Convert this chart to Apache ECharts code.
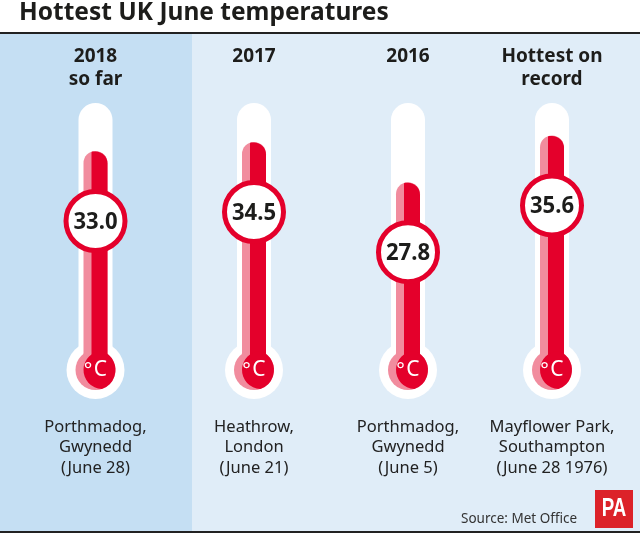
<!DOCTYPE html>
<html lang="en" style="height: 100%">

<head>
  <meta charset="utf-8" />
  <script src="https://cdn.jsdelivr.net/npm/echarts@6/dist/echarts.min.js"></script>
</head>

<body style="height: 100%; margin: 0; background: #fff">
  <div id="container" style="width: 640px; height: 536px;"></div>

  <script type="text/javascript">
    // data
    var headers = ['2018\nso far', '2017', '2016', 'Hottest on\nrecord'];
    var temperatures = [33.0, 34.5, 27.8, 35.6];
    var places = [
      'Porthmadog,\nGwynedd\n(June 28)',
      'Heathrow,\nLondon\n(June 21)',
      'Porthmadog,\nGwynedd\n(June 5)',
      'Mayflower Park,\nSouthampton\n(June 28 1976)'
    ];
    var tubeTopValue = 41;

    // layout and colours
    var centres = [95.5, 254, 408, 552];
    var FONT = '"Noto Sans", sans-serif';
    var RED = '#e4002b';
    var PINK = '#f18c9e';
    var INK = '#1d1d1b';

    var dom = document.getElementById('container');
    var myChart = echarts.init(dom, null, { renderer: 'canvas' });

    function renderThermometer(params, api) {
      var pos = api.coord([api.value(0), api.value(1)]);
      var zero = api.coord([api.value(0), 0]);
      var top = api.coord([api.value(0), tubeTopValue]);
      var cx = pos[0], y = pos[1];
      var bulbY = zero[1] + 21;
      var labelY = y + 70;
      var d = 7, ra = 20, rb = 19;
      var ix = (d * d + ra * ra - rb * rb) / (2 * d);
      var iy = Math.sqrt(ra * ra - ix * ix);
      var lens = 'M' + (cx + ix) + ' ' + (bulbY - iy) +
        'A' + ra + ' ' + ra + ' 0 0 1 ' + (cx + ix) + ' ' + (bulbY + iy) +
        'A' + rb + ' ' + rb + ' 0 0 1 ' + (cx + ix) + ' ' + (bulbY - iy) + 'Z';
      return {
        type: 'group',
        children: [
          // white glass
          { type: 'rect', shape: { x: cx - 17, y: top[1], width: 34, height: bulbY - top[1], r: [17, 17, 0, 0] }, style: { fill: '#fff' } },
          { type: 'circle', shape: { cx: cx, cy: bulbY, r: 29 }, style: { fill: '#fff' } },
          // mercury
          { type: 'rect', shape: { x: cx - 12, y: y, width: 24, height: bulbY - y, r: [12, 12, 0, 0] }, style: { fill: PINK } },
          { type: 'circle', shape: { cx: cx, cy: bulbY, r: ra }, style: { fill: PINK } },
          { type: 'rect', shape: { x: cx - 4, y: y + 0.5, width: 16, height: bulbY - y, r: [1, 12, 0, 0] }, style: { fill: RED } },
          { type: 'path', shape: { pathData: lens }, style: { fill: RED } },
          { type: 'text', style: { x: cx - 7.5, y: bulbY + 1, text: '°', fill: '#fff', font: '20px ' + FONT, align: 'center', verticalAlign: 'middle' } },
          { type: 'text', style: { x: cx + 5, y: bulbY, text: 'C', fill: '#fff', font: '21px ' + FONT, align: 'center', verticalAlign: 'middle' } },
          // reading
          { type: 'circle', shape: { cx: cx, cy: labelY, r: 29.5 }, style: { fill: '#fff', stroke: RED, lineWidth: 5 } },
          { type: 'text', x: cx, y: labelY + 1, scaleX: 0.92, style: { x: 0, y: 0, text: api.value(1).toFixed(1), fill: INK, font: 'bold 24px ' + FONT, align: 'center', verticalAlign: 'middle' } }
        ]
      };
    }

    var option = {
      animation: false,
      backgroundColor: '#fff',
      title: [
        { text: 'Hottest UK June temperatures', left: 19, top: 1, padding: 0, textStyle: { fontFamily: FONT, fontWeight: 'bold', fontSize: 24.5, color: INK } }
      ],
      grid: [],
      xAxis: [],
      yAxis: [],
      series: [],
      graphic: [
        { type: 'rect', z: -10, shape: { x: 0, y: 33, width: 640, height: 498 }, style: { fill: '#e0edf8' } },
        { type: 'rect', z: -9, shape: { x: 0, y: 33, width: 192, height: 498 }, style: { fill: '#c5dff3' } },
        { type: 'rect', z: -8, shape: { x: 0, y: 32, width: 640, height: 2 }, style: { fill: '#222' } },
        { type: 'rect', z: -8, shape: { x: 0, y: 531, width: 640, height: 2 }, style: { fill: '#222' } },
        { type: 'rect', z: -8, shape: { x: 595, y: 490, width: 38, height: 38 }, style: { fill: '#dc2229' } },
        { type: 'text', x: 614, y: 509, scaleX: 0.72, style: { x: 0, y: 0, text: 'PA', fill: '#fff', font: 'bold 26px "Liberation Sans", sans-serif', align: 'center', verticalAlign: 'middle' } },
        { type: 'text', style: { x: 461, y: 519, text: 'Source: Met Office', fill: '#333', font: '13.5px ' + FONT, verticalAlign: 'middle' } }
      ]
    };

    headers.forEach(function (header, i) {
      option.grid.push({ left: centres[i] - 60, width: 120, top: 79, height: 270 });
      option.xAxis.push({ gridIndex: i, type: 'category', data: [header], show: false });
      option.yAxis.push({ gridIndex: i, type: 'value', min: 0, max: 45, show: false });
      option.series.push({
        type: 'custom',
        xAxisIndex: i,
        yAxisIndex: i,
        clip: false,
        renderItem: renderThermometer,
        data: [[header, temperatures[i]]]
      });
      option.title.push({
        text: header, left: centres[i], top: 45, padding: 0, textAlign: 'center',
        textStyle: { fontFamily: FONT, fontWeight: 'bold', fontSize: 19, lineHeight: 23, color: INK }
      });
      option.title.push({
        text: places[i], left: centres[i], top: 417, padding: 0, textAlign: 'center',
        textStyle: { fontFamily: FONT, fontWeight: 'normal', fontSize: 16.5, lineHeight: 20.5, color: '#222' }
      });
    });

    myChart.setOption(option);
    window.addEventListener('resize', myChart.resize);
  </script>
</body>

</html>
